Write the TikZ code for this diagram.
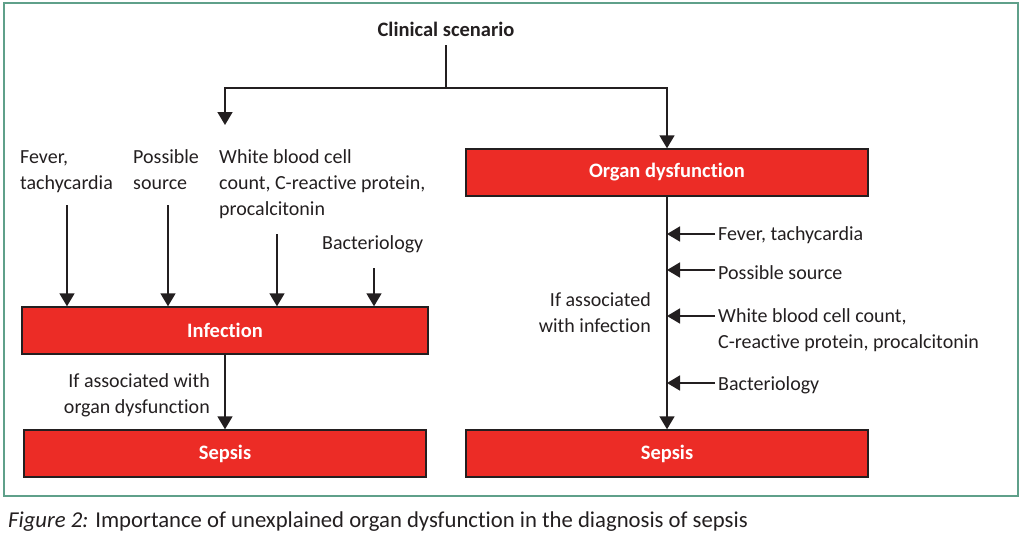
\documentclass[tikz,border=0pt]{standalone}
\usepackage{fontspec}
\setmainfont[Ligatures=NoCommon]{Carlito}
\usetikzlibrary{arrows.meta}
\definecolor{frame}{RGB}{95,160,138}
\definecolor{boxred}{RGB}{236,44,38}
\definecolor{ink}{RGB}{35,31,32}
\tikzset{
  lbl/.style={inner sep=0pt, text=ink, font=\fontsize{20}{26}\selectfont, align=left, anchor=north west},
  lblr/.style={inner sep=0pt, text=ink, font=\fontsize{20}{26}\selectfont, align=right, anchor=north east},
  redbox/.style={draw=ink, line width=1.4pt, fill=boxred, minimum height=47pt, inner sep=0pt,
     text=white, font=\fontsize{20.5}{24}\selectfont\bfseries},
  arr/.style={draw=ink, line width=1.6pt, -{Triangle[length=13pt,width=15pt]}},
  ln/.style={draw=ink, line width=1.6pt}
}
\begin{document}
\begin{tikzpicture}[x=1pt,y=-1pt]
\useasboundingbox (0,0) rectangle (1023,543);
\draw[frame, line width=1.6pt] (4,3) rectangle (1018,496);

% title
\node[inner sep=0pt, text=ink, font=\fontsize{20.5}{24}\selectfont\bfseries, anchor=base] (clin) at (446,37) {Clinical scenario};
\coordinate (split) at (446,88);
\coordinate (ltip) at (225,125);
\draw[ln, shorten <=8pt] (clin.south) -- (split);

% boxes
\node[redbox, minimum width=406pt] (infection) at (225,330.5) {\raisebox{1pt}{Infection}};
\node[redbox, minimum width=402pt] (sepsisL) at (225,453.5) {Sepsis};
\node[redbox, minimum width=402pt] (organ) at (667,172.5) {\raisebox{1pt}{Organ dysfunction}};
\node[redbox, minimum width=402pt] (sepsisR) at (667,453.5) {Sepsis};

\draw[arr] (split) -| (ltip);
\draw[arr] (split) -| (organ.north);

% left labels
\node[lbl] (fever) at (20,144.8) {\strut Fever,\\tachycardia};
\node[lbl] (source) at (133,144.8) {\strut Possible\\source};
\node[lbl] (wbc) at (219,144.8) {\strut White blood cell\\count, C-reactive protein,\\procalcitonin};
\node[lbl] (bact) at (322,230.8) {\strut Bacteriology};

\coordinate (a1) at (67,205);
\coordinate (a2) at (168,205);
\coordinate (a3) at (277,234);
\coordinate (a4) at (374,268);
\draw[arr] (a1) -- (a1 |- infection.north);
\draw[arr] (a2) -- (a2 |- infection.north);
\draw[arr] (a3) -- (a3 |- infection.north);
\draw[arr] (a4) -- (a4 |- infection.north);

\node[lblr] (condL) at (210,368.8) {\strut If associated with\\organ dysfunction};
\draw[arr] (infection.south) -- (sepsisL.north);

% right side
\draw[arr] (organ.south) -- (sepsisR.north);
\node[lblr] (condR) at (651,287.8) {\strut If associated\\with infection};

\node[lbl] (rfever) at (718,221.8) {\strut Fever, tachycardia};
\node[lbl] (rsource) at (718,260.8) {\strut Possible source};
\node[lbl] (rwbc) at (718,303.8) {\strut White blood cell count,\\C-reactive protein, procalcitonin};
\node[lbl] (rbact) at (718,371.8) {\strut Bacteriology};

\coordinate (r1) at (715,234);
\coordinate (r2) at (715,270);
\coordinate (r3) at (715,316);
\coordinate (r4) at (715,383);
\draw[arr] (r1) -- (r1 -| organ.south);
\draw[arr] (r2) -- (r2 -| organ.south);
\draw[arr] (r3) -- (r3 -| organ.south);
\draw[arr] (r4) -- (r4 -| organ.south);

% caption
\node[inner sep=0pt, text=ink, font=\fontsize{22.7}{26}\selectfont, anchor=base west] (caption) at (8,527)
  {\textit{Figure 2:} Importance of unexplained organ dysfunction in the diagnosis of sepsis};
\end{tikzpicture}
\end{document}
